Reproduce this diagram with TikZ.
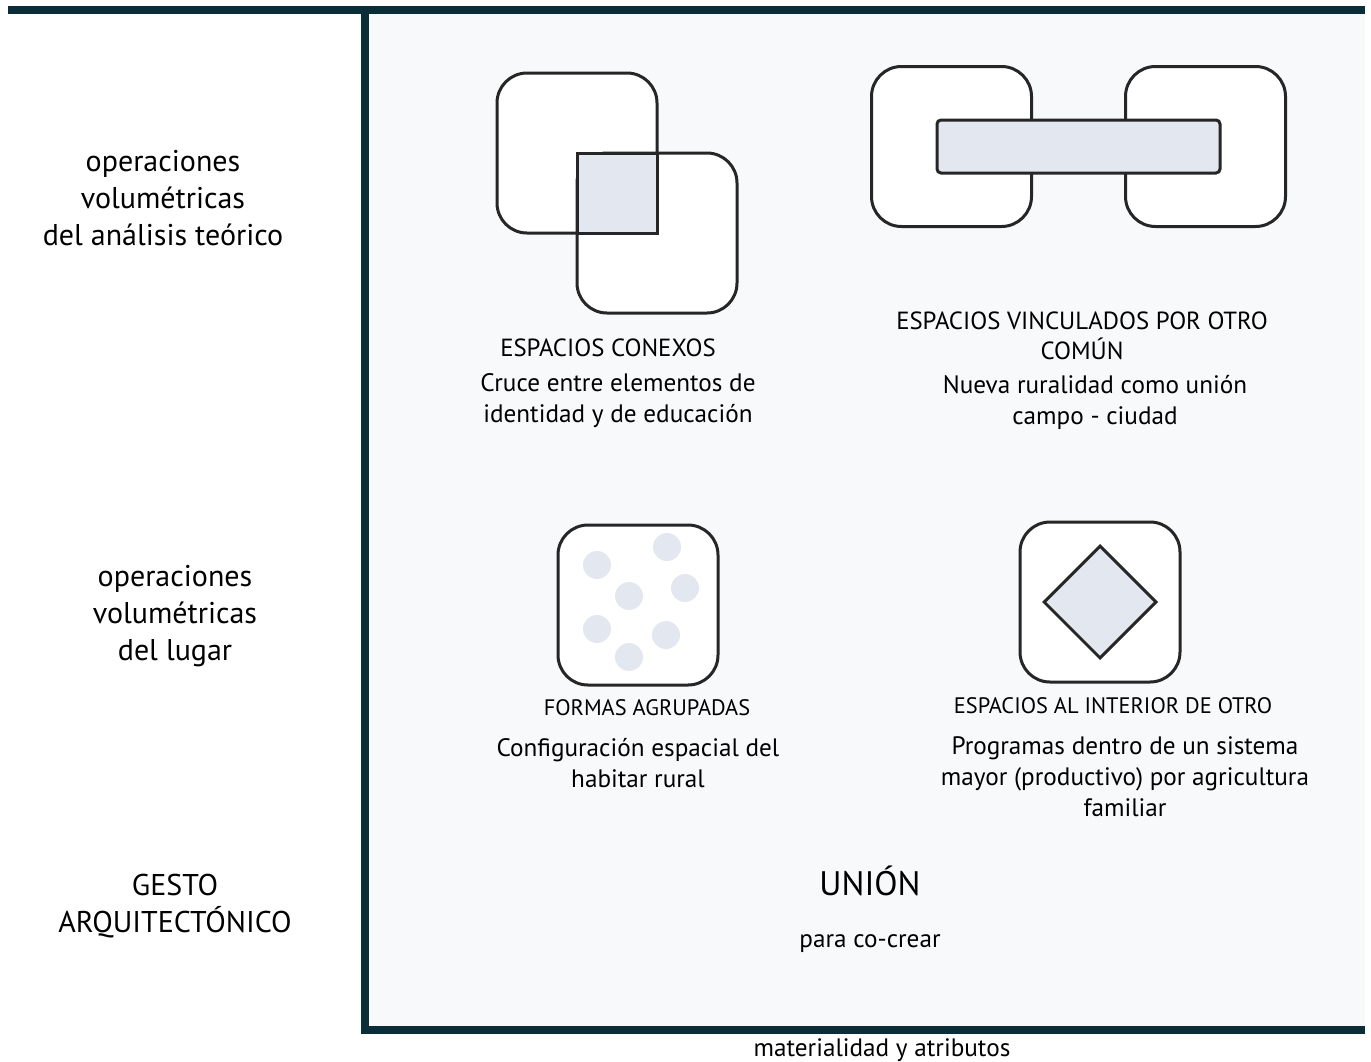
\documentclass[tikz,border=0pt]{standalone}
\usepackage{fontspec}
\setmainfont{PT Sans}
\usetikzlibrary{positioning,shapes.geometric}
\definecolor{barteal}{HTML}{0B2D37}
\definecolor{panelbg}{HTML}{F8F9FB}
\definecolor{shade}{HTML}{E3E7EF}

\begin{document}
\begin{tikzpicture}[
  x=0.5pt, y=-0.5pt,
  frame/.style={line width=4pt, barteal},
  room/.style={draw=black!85, fill=white, line width=1.5pt, rounded corners=15pt,
               minimum size=80pt, inner sep=0pt, outer sep=0pt},
  core/.style={draw=black!85, fill=shade, line width=1.5pt},
  dot/.style={circle, fill=shade, minimum size=14pt, inner sep=0pt},
  axislbl/.style={align=center, font=\fontsize{15}{18.5}\selectfont},
  caption/.style={align=center, font=\fontsize{12.4}{15}\selectfont},
  smallcap/.style={align=center, font=\fontsize{11.2}{15}\selectfont},
  desc/.style={align=center, font=\fontsize{12.6}{15.5}\selectfont},
]
  \useasboundingbox (0,0) rectangle (1371,1061);

  \fill[panelbg] (369,14) rectangle (1365,1026);
  \draw[frame] (8,10) -- (1365,10);
  \draw[frame] (365,6) -- (365,1030);
  \draw[frame] (361,1030) -- (1365,1030);

  \node[axislbl] (lblTheory) at (163,198)
    {operaciones\\ volumétricas\\ del análisis teórico};
  \node[axislbl] (lblPlace) at (175,616)
    {operaciones\\ volumétricas\\ del lugar};
  \node[axislbl] (lblGesture) at (175,906) {GESTO\\ ARQUITECTÓNICO};
  \node[desc] (lblMatter) at (882,1050) {materialidad y atributos};

  \node[room] (conA) at (577,153) {};
  \node[room] (conB) at (657,233) {};
  \draw[core] (conB.north west) rectangle (conA.south east);
  \node[caption] (capCon) at (608,348) {ESPACIOS CONEXOS};
  \node[desc] (descCon) at (618,400.5)
    {Cruce entre elementos de\\ identidad y de educación};

  \node[room] (vinL) at (951.5,146.5) {};
  \node[room] (vinR) at (1205.5,146.5) {};
  \node[core, rounded corners=2pt, minimum width=141.5pt, minimum height=26.5pt,
        inner sep=0pt] (vinBar) at (1078.5,146.5) {};
  \node[caption] (capVin) at (1082,336) {ESPACIOS VINCULADOS POR OTRO\\ COMÚN};
  \node[desc] (descVin) at (1095,402.5)
    {Nueva ruralidad como unión\\ campo - ciudad};

  \node[room] (agr) at (638,605) {};
  \foreach \px/\py [count=\i] in {597/565, 667/547, 629/596, 685/588,
                                  597/629, 666/635, 629/657}
    \node[dot] (dot\i) at (\px,\py) {};
  \node[smallcap] (capAgr) at (647,708) {FORMAS AGRUPADAS};
  \node[desc] (descAgr) at (638,763)
    {Configuración espacial del\\ habitar rural};

  \node[room] (inr) at (1100,602) {};
  \node[core, diamond, aspect=1, minimum size=56.5pt, inner sep=0pt] (inrCore) at (inr) {};
  \node[smallcap] (capInr) at (1113,706) {ESPACIOS AL INTERIOR DE OTRO};
  \node[desc] (descInr) at (1125,777)
    {Programas dentro de un sistema\\ mayor (productivo) por agricultura\\ familiar};

  \node[font=\fontsize{17}{20}\selectfont] (union) at (870,881) {UNIÓN};
  \node[desc] (cocrear) at (870,944) {para co-crear};
\end{tikzpicture}
\end{document}
